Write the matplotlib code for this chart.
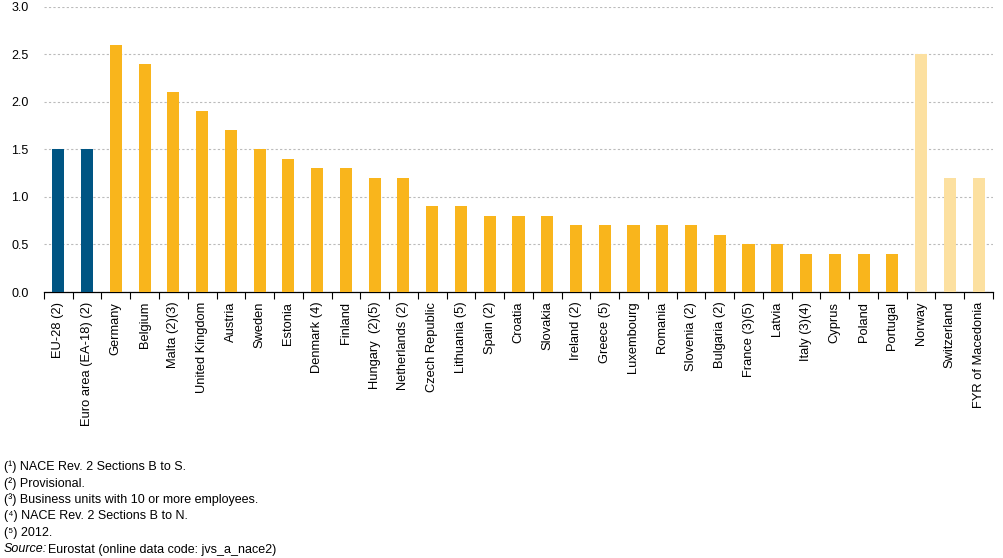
import matplotlib.pyplot as plt
import numpy as np

plt.rcParams['font.family'] = ['Liberation Sans', 'DejaVu Sans']

countries = ['EU-28 (2)', 'Euro area (EA-18) (2)', 'Germany', 'Belgium', 'Malta (2)(3)',
             'United Kingdom', 'Austria', 'Sweden', 'Estonia', 'Denmark (4)', 'Finland',
             'Hungary  (2)(5)', 'Netherlands (2)', 'Czech Republic', 'Lithuania (5)',
             'Spain (2)', 'Croatia', 'Slovakia', 'Ireland (2)', 'Greece (5)', 'Luxembourg',
             'Romania', 'Slovenia (2)', 'Bulgaria (2)', 'France (3)(5)', 'Latvia',
             'Italy (3)(4)', 'Cyprus', 'Poland', 'Portugal', 'Norway', 'Switzerland',
             'FYR of Macedonia']
values = [1.5, 1.5, 2.6, 2.4, 2.1, 1.9, 1.7, 1.5, 1.4, 1.3, 1.3, 1.2, 1.2, 0.9, 0.9,
          0.8, 0.8, 0.8, 0.7, 0.7, 0.7, 0.7, 0.7, 0.6, 0.5, 0.5, 0.4, 0.4, 0.4, 0.4,
          2.5, 1.2, 1.2]
groups = ['agg'] * 2 + ['eu'] * 28 + ['other'] * 3

group_colors = {'agg': '#005583', 'eu': '#F9B51C', 'other': '#FCE0A0'}
colors = [group_colors[g] for g in groups]

fig = plt.figure(figsize=(10.04, 5.58), dpi=100)
ax = fig.add_axes([0.0438, 0.4767, 0.9452, 0.5108])

x = np.arange(len(countries))
ax.bar(x, values, width=0.42, color=colors, zorder=3)

ax.set_xlim(-0.5, len(countries) - 0.5)
ax.set_ylim(0, 3.0)
ax.set_yticks(np.arange(0, 3.01, 0.5))
ax.set_yticklabels([f'{v:.1f}' for v in np.arange(0, 3.01, 0.5)], fontsize=9)
ax.yaxis.grid(True, linestyle=(0, (2, 2)), color='#bbbbbb', linewidth=0.8, zorder=0)
ax.tick_params(axis='y', length=0, pad=11)

ax.set_xticks(x)
ax.set_xticklabels(countries, rotation=90, fontsize=9.3)
ax.tick_params(axis='x', which='major', length=0, pad=7)
ax.set_xticks(np.arange(-0.5, len(countries)), minor=True)
ax.tick_params(axis='x', which='minor', length=5, direction='out', width=0.8)

for s in ['top', 'right', 'left']:
    ax.spines[s].set_visible(False)
ax.spines['bottom'].set_linewidth(0.9)

notes = ['(\u00b9) NACE Rev. 2 Sections B to S.',
         '(\u00b2) Provisional.',
         '(\u00b3) Business units with 10 or more employees.',
         '(\u2074) NACE Rev. 2 Sections B to N.',
         '(\u2075) 2012.']
y0 = 1 - 467 / 558
for i, n in enumerate(notes):
    fig.text(0.004, y0 - i * 16.5 / 558, n, fontsize=9, va='center')
fig.text(0.004, y0 - 5 * 16.5 / 558, 'Source:', fontsize=9, va='center', style='italic')
fig.text(0.048, y0 - 5 * 16.5 / 558, 'Eurostat (online data code: jvs_a_nace2)',
         fontsize=9, va='center')

fig.savefig('out.png', dpi=100)
